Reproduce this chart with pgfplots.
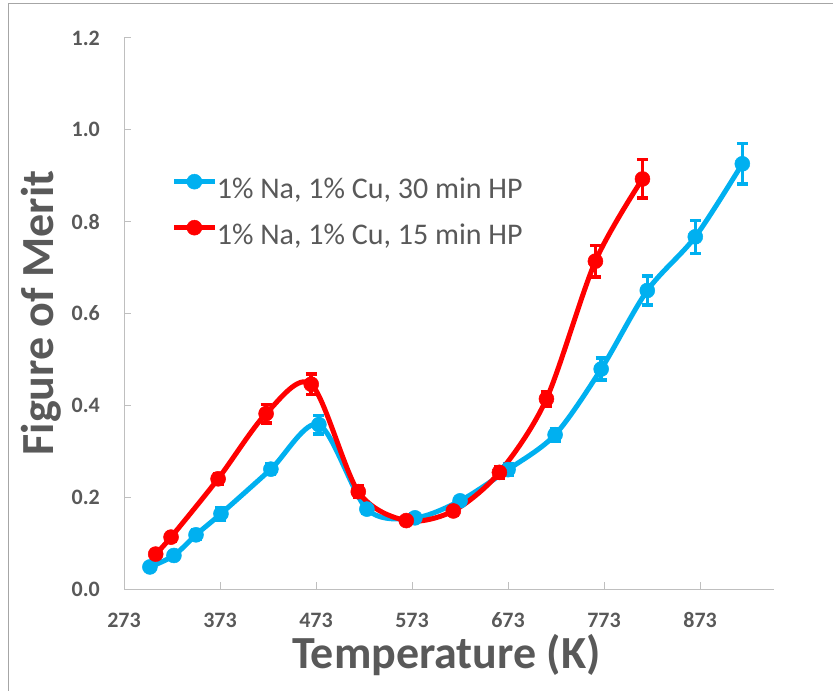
\documentclass[border=0pt]{standalone}
\usepackage{fontspec}
\setmainfont{Carlito}
\usepackage{pgfplots}
\usepackage{pgfplotstable}
\pgfplotsset{compat=1.18}

\definecolor{zblue}{RGB}{0,176,240}
\definecolor{zred}{RGB}{255,0,0}
\definecolor{txtgray}{RGB}{89,89,89}
\definecolor{axgray}{RGB}{191,191,191}
\definecolor{framegray}{RGB}{166,166,166}

% T (K), figure of merit, error
\pgfplotstableread{
T    Z     E
300  0.048 0.008
325  0.073 0.008
348  0.118 0.010
374  0.164 0.014
426  0.261 0.012
476  0.358 0.020
526  0.174 0.010
576  0.155 0.008
623  0.192 0.008
673  0.260 0.012
722  0.336 0.014
770  0.479 0.024
818  0.650 0.032
868  0.767 0.036
917  0.926 0.044
}\thirtymin

\pgfplotstableread{
T    Z     E
306  0.076 0.008
322  0.113 0.010
371  0.240 0.012
421  0.382 0.020
468  0.446 0.022
517  0.212 0.012
567  0.149 0.008
616  0.170 0.010
664  0.254 0.012
713  0.414 0.015
764  0.714 0.034
813  0.893 0.042
}\fifteenmin

\begin{document}
\begin{tikzpicture}
\useasboundingbox (0,0) rectangle (833bp,691bp);
\draw[framegray, line width=1.5bp] (8.5bp,0) -- (8.5bp,687.5bp) -- (833bp,687.5bp);
\begin{axis}[
  at={(124bp,102bp)}, anchor=south west,
  scale only axis, width=650bp, height=551bp,
  xmin=273, xmax=950, ymin=0, ymax=1.2,
  xtick={273,373,473,573,673,773,873},
  ytick={0,0.2,0.4,0.6,0.8,1.0,1.2},
  axis x line*=bottom, axis y line*=left,
  axis line style={-, draw=axgray, line width=1bp},
  major tick style={draw=axgray, line width=1bp},
  major tick length=7bp,
  /pgf/number format/assume math mode=true,
  ticklabel style={font=\fontsize{22bp}{26bp}\selectfont\bfseries, text=txtgray, inner sep=0pt},
  yticklabel style={anchor=east, xshift=-24bp,
    /pgf/number format/.cd, fixed, fixed zerofill, precision=1},
  xticklabel style={anchor=base, yshift=-38bp},
  xlabel={Temperature (K)},
  ylabel={Figure of Merit},
  xlabel style={at={(axis description cs:0.496,-0.1434)}, anchor=base,
    font=\fontsize{46bp}{54bp}\selectfont\bfseries, text=txtgray, inner sep=0pt},
  ylabel style={at={(axis description cs:-0.1077,0.501)}, anchor=base,
    font=\fontsize{46bp}{54bp}\selectfont\bfseries, text=txtgray, inner sep=0pt},
  legend style={at={(axis description cs:0.0734,0.7532)}, anchor=north west,
    draw=none, fill=none, inner sep=0pt, column sep=0bp, row sep=14.5bp,
    font=\fontsize{30bp}{36bp}\selectfont, text=txtgray,
    nodes={inner sep=0pt, text height=21bp, text depth=7bp}},
  legend cell align=left,
  legend image code/.code={
    \draw[mark repeat=2, mark phase=2, #1]
      plot coordinates {(0bp,10bp) (20bp,10bp) (40bp,10bp)};},
  clip=false,
]
\addplot[zblue, line width=5bp, smooth, tension=0.5,
  mark=*, mark size=7.5bp, mark options={solid, line width=0.5bp, fill=zblue},
  error bars/.cd, y dir=both, y explicit,
  error bar style={line width=3.5bp, zblue},
  error mark options={rotate=90, line width=3.5bp, mark size=5.5bp, zblue}]
  table[x=T, y=Z, y error=E] {\thirtymin};
\addlegendentry{1\% Na, 1\% Cu, 30 min HP}

\addplot[zred, line width=5bp, smooth, tension=0.5,
  mark=*, mark size=7.5bp, mark options={solid, line width=0.5bp, fill=zred},
  error bars/.cd, y dir=both, y explicit,
  error bar style={line width=3.5bp, zred},
  error mark options={rotate=90, line width=3.5bp, mark size=5.5bp, zred}]
  table[x=T, y=Z, y error=E] {\fifteenmin};
\addlegendentry{1\% Na, 1\% Cu, 15 min HP}
\end{axis}
\end{tikzpicture}
\end{document}
